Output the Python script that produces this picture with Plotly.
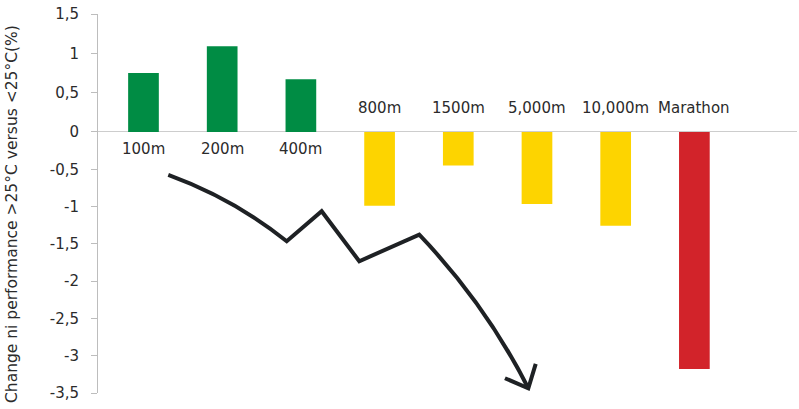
import plotly.graph_objects as go

categories = ["100m", "200m", "400m", "800m", "1500m", "5,000m", "10,000m", "Marathon"]
values = [0.75, 1.09, 0.67, -0.99, -0.45, -0.965, -1.256, -3.177]
bar_colors = ["#008c44", "#008c44", "#008c44", "#fdd400", "#fdd400", "#fdd400", "#fdd400", "#d2232a"]

# the source chart's value axis is drawn with a slightly taller scale above zero
pos_tickvals = [1.5, 1, 0.5]
pos_ticktext = ["1,5", "1", "0,5"]
neg_tickvals = [0, -0.5, -1, -1.5, -2, -2.5, -3, -3.5]
neg_ticktext = ["0", "-0,5", "-1", "-1,5", "-2", "-2,5", "-3", "-3,5"]

y_title = "Change ni performance >25°C versus <25°C(%)"

# decorative hand-drawn trend arrow (x in category index units, y in lower-axis units)
arrow_path = (
    "M 0.315,-0.576 Q 1.150,-0.898 1.820,-1.465 "
    "L 2.264,-1.063 L 2.742,-1.733 L 3.504,-1.377 "
    "Q 4.349,-2.311 4.890,-3.436"
)
arrow_head = "M 4.593,-3.302 L 4.890,-3.436 L 4.984,-3.110"

FONT = "DejaVu Sans, sans-serif"
TXT = "#2b2b2b"
AXIS = "#bdbdbd"

idx = list(range(len(categories)))
pos_i = [i for i in idx if values[i] > 0]
neg_i = [i for i in idx if values[i] <= 0]

fig = go.Figure()
fig.add_trace(go.Bar(
    x=pos_i, y=[values[i] for i in pos_i], yaxis="y2",
    marker=dict(color=[bar_colors[i] for i in pos_i], line=dict(width=0)),
    width=0.39, hoverinfo="skip",
))
fig.add_trace(go.Bar(
    x=neg_i, y=[values[i] for i in neg_i], yaxis="y",
    marker=dict(color=[bar_colors[i] for i in neg_i], line=dict(width=0)),
    width=0.39, hoverinfo="skip",
))

for i, (c, v) in enumerate(zip(categories, values)):
    fig.add_annotation(
        x=i, y=0, yref="y2", text=c, showarrow=False,
        yanchor="top" if v > 0 else "bottom",
        yshift=-6 if v > 0 else 13,
        font=dict(family=FONT, size=15, color=TXT),
    )

fig.add_annotation(
    xref="paper", yref="paper", x=0, y=0.5, xanchor="center", yanchor="middle",
    xshift=-86, yshift=-10.5, textangle=-90, text=y_title, showarrow=False,
    font=dict(family=FONT, size=15.5, color=TXT),
)

# horizontal zero axis line
fig.add_shape(type="line", xref="paper", yref="y2", x0=0, x1=1, y0=0, y1=0,
              line=dict(color=AXIS, width=1.5), layer="below")

for p in (arrow_path, arrow_head):
    fig.add_shape(type="path", path=p, xref="x", yref="y",
                  line=dict(color="#1e2124", width=4), layer="above")

split = 0.6887
common_y = dict(showgrid=False, zeroline=False, showline=True, linecolor=AXIS, linewidth=1,
                ticks="outside", ticklen=6, tickcolor=AXIS, ticklabelstandoff=9,
                tickfont=dict(family=FONT, size=15, color=TXT),
                automargin=False, ticklabeloverflow="allow")

fig.update_layout(
    width=799, height=409,
    margin=dict(l=98, r=2, t=14, b=16),
    paper_bgcolor="white", plot_bgcolor="white",
    showlegend=False, barmode="overlay",
    font=dict(family=FONT, size=15, color=TXT),
    xaxis=dict(range=[-0.578, 8.304], showticklabels=False, showgrid=False,
               zeroline=False, showline=False, ticks="", anchor="y"),
    yaxis=dict(range=[-3.5, 0], domain=[0, split], tickvals=neg_tickvals,
               ticktext=neg_ticktext, anchor="x", **common_y),
    yaxis2=dict(range=[0, 1.5], domain=[split, 1], tickvals=pos_tickvals,
                ticktext=pos_ticktext, anchor="x", **common_y),
)

fig.write_html(
    "out.html",
    config={"displayModeBar": False},
    post_script="document.body.style.margin='0';document.body.style.overflow='hidden';",
)
